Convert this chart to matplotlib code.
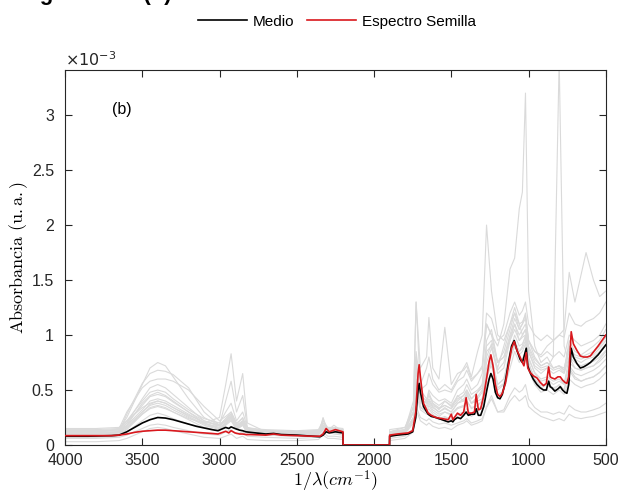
import numpy as np
import matplotlib
matplotlib.use("Agg")
import matplotlib.pyplot as plt

plt.rcParams['font.family'] = ['Liberation Sans', 'DejaVu Sans']

# fine grid used for the mean and the seed spectrum (cm^-1)
wn = [4000, 3850, 3700, 3650, 3600, 3550, 3500, 3450, 3400, 3350, 3300, 3250,
      3200, 3150, 3100, 3050, 3010, 2960, 2940, 2925, 2900, 2870, 2850, 2830,
      2800, 2700, 2650, 2600, 2500, 2400, 2350, 2330, 2310, 2290, 2250, 2201,
      2200, 1900, 1899, 1850, 1780, 1750, 1730, 1715, 1708, 1700, 1680, 1650,
      1630, 1600, 1560, 1520, 1500, 1490, 1480, 1460, 1440, 1420, 1404, 1390,
      1370, 1350, 1339, 1325, 1310, 1290, 1270, 1255, 1244, 1230, 1215, 1200,
      1185, 1170, 1150, 1130, 1110, 1093, 1075, 1055, 1040, 1030, 1015, 1005,
      990, 970, 946, 925, 903, 885, 870, 860, 849, 830, 810, 795,
      780, 765, 752, 740, 724, 710, 687, 665, 644, 620, 600, 550,
      500]

# absorbancia x 1e-3
medio = [0.08, 0.08, 0.085, 0.09, 0.12, 0.16, 0.20, 0.23, 0.25, 0.245, 0.23, 0.21,
         0.19, 0.17, 0.155, 0.14, 0.13, 0.16, 0.15, 0.165, 0.15, 0.135, 0.13, 0.12,
         0.115, 0.10, 0.105, 0.095, 0.09, 0.08, 0.075, 0.09, 0.12, 0.11, 0.12, 0.11,
         0, 0, 0.08, 0.09, 0.10, 0.12, 0.25, 0.50, 0.56, 0.48, 0.35, 0.28,
         0.26, 0.25, 0.23, 0.21, 0.22, 0.21, 0.23, 0.25, 0.24, 0.27, 0.30, 0.27,
         0.28, 0.28, 0.33, 0.27, 0.27, 0.35, 0.50, 0.60, 0.65, 0.60, 0.48, 0.43,
         0.42, 0.46, 0.58, 0.75, 0.90, 0.95, 0.86, 0.78, 0.75, 0.80, 0.88, 0.72,
         0.66, 0.60, 0.55, 0.52, 0.50, 0.50, 0.58, 0.53, 0.52, 0.49, 0.51, 0.53,
         0.50, 0.48, 0.47, 0.55, 0.88, 0.80, 0.74, 0.70, 0.71, 0.73, 0.75, 0.82,
         0.91]

semilla = [0.085, 0.085, 0.085, 0.09, 0.10, 0.115, 0.125, 0.13, 0.135, 0.135, 0.13, 0.125,
           0.12, 0.115, 0.11, 0.105, 0.10, 0.125, 0.11, 0.13, 0.11, 0.10, 0.10, 0.095,
           0.095, 0.09, 0.10, 0.09, 0.085, 0.08, 0.08, 0.10, 0.15, 0.12, 0.14, 0.12,
           0, 0, 0.09, 0.10, 0.11, 0.13, 0.30, 0.65, 0.73, 0.62, 0.38, 0.29,
           0.27, 0.25, 0.24, 0.23, 0.28, 0.23, 0.25, 0.29, 0.27, 0.30, 0.43, 0.29,
           0.29, 0.30, 0.46, 0.32, 0.33, 0.45, 0.62, 0.76, 0.82, 0.72, 0.55, 0.46,
           0.44, 0.47, 0.56, 0.72, 0.88, 0.94, 0.86, 0.80, 0.75, 0.72, 0.84, 0.70,
           0.66, 0.63, 0.61, 0.57, 0.54, 0.56, 0.71, 0.62, 0.61, 0.60, 0.62, 0.62,
           0.59, 0.57, 0.56, 0.62, 1.03, 0.92, 0.86, 0.81, 0.80, 0.80, 0.81, 0.90,
           1.00]

# coarser grid for the individual spectra
wn_g = [4000, 3800, 3650, 3600, 3500, 3450, 3400, 3350, 3300, 3200, 3100, 3000,
        2960, 2925, 2890, 2850, 2820, 2700, 2500, 2360, 2330, 2300, 2260, 2201,
        2200, 1900, 1899, 1800, 1745, 1728, 1700, 1660, 1645, 1620, 1580, 1542,
        1500, 1460, 1420, 1400, 1370, 1330, 1300, 1272, 1240, 1200, 1160, 1120,
        1090, 1060, 1040, 1020, 1000, 960, 920, 880, 840, 802, 770, 737,
        700, 660, 628, 580, 540, 500]

espectros = [
    [0.12, 0.12, 0.14, 0.25, 0.55, 0.70, 0.75, 0.72, 0.62, 0.42, 0.25, 0.18,
     0.22, 0.26, 0.17, 0.21, 0.14, 0.12, 0.11, 0.12, 0.18, 0.14, 0.14, 0.13,
     0, 0, 0.10, 0.12, 0.25, 0.55, 0.35, 0.30, 0.33, 0.28, 0.24, 0.26,
     0.23, 0.28, 0.30, 0.33, 0.28, 0.32, 0.36, 0.60, 0.75, 0.50, 0.55, 0.80,
     0.95, 0.85, 0.90, 1.00, 0.75, 0.60, 0.52, 0.55, 0.50, 0.55, 0.50, 0.70,
     0.62, 0.58, 0.60, 0.62, 0.66, 0.72],
    [0.14, 0.14, 0.15, 0.30, 0.52, 0.58, 0.60, 0.60, 0.58, 0.50, 0.35, 0.22,
     0.26, 0.30, 0.20, 0.24, 0.15, 0.13, 0.12, 0.13, 0.20, 0.15, 0.15, 0.14,
     0, 0, 0.12, 0.14, 0.30, 0.80, 0.45, 0.40, 0.48, 0.38, 0.32, 0.40,
     0.35, 0.42, 0.45, 0.50, 0.42, 0.48, 0.52, 0.95, 1.05, 0.75, 0.80, 1.00,
     1.15, 1.05, 1.10, 1.20, 0.95, 0.80, 0.72, 0.75, 0.70, 0.72, 0.68, 0.95,
     0.85, 0.82, 0.85, 0.90, 0.95, 1.05],
    [0.10, 0.10, 0.11, 0.16, 0.28, 0.33, 0.35, 0.33, 0.30, 0.24, 0.20, 0.25,
     0.55, 0.83, 0.40, 0.65, 0.20, 0.12, 0.10, 0.11, 0.17, 0.13, 0.13, 0.12,
     0, 0, 0.10, 0.13, 0.35, 1.30, 0.50, 0.42, 0.45, 0.38, 0.34, 0.36,
     0.33, 0.45, 0.40, 0.48, 0.38, 0.40, 0.42, 0.70, 0.80, 0.55, 0.60, 0.85,
     1.00, 0.90, 0.92, 0.98, 0.80, 0.65, 0.58, 0.60, 0.55, 0.58, 0.55, 0.80,
     0.70, 0.68, 0.70, 0.72, 0.76, 0.82],
    [0.03, 0.03, 0.04, 0.06, 0.12, 0.15, 0.16, 0.15, 0.13, 0.10, 0.07, 0.06,
     0.08, 0.10, 0.06, 0.08, 0.05, 0.04, 0.04, 0.05, 0.09, 0.06, 0.06, 0.05,
     0, 0, 0.04, 0.06, 0.12, 0.32, 0.22, 0.18, 0.20, 0.17, 0.15, 0.16,
     0.14, 0.18, 0.20, 0.22, 0.18, 0.20, 0.22, 0.34, 0.42, 0.30, 0.32, 0.45,
     0.52, 0.48, 0.50, 0.55, 0.42, 0.34, 0.30, 0.30, 0.28, 0.30, 0.28, 0.36,
     0.32, 0.30, 0.30, 0.32, 0.34, 0.38],
    [0.09, 0.09, 0.10, 0.18, 0.38, 0.45, 0.48, 0.45, 0.40, 0.30, 0.20, 0.15,
     0.20, 0.24, 0.15, 0.19, 0.12, 0.10, 0.09, 0.10, 0.15, 0.12, 0.12, 0.11,
     0, 0, 0.08, 0.11, 0.22, 0.60, 0.38, 0.40, 0.50, 0.45, 0.40, 0.42,
     0.38, 0.50, 0.55, 0.60, 0.50, 0.55, 0.65, 1.10, 1.00, 0.90, 1.10, 1.60,
     1.70, 2.15, 2.30, 3.20, 1.40, 0.90, 0.75, 0.80, 0.70, 0.72, 0.68, 0.90,
     0.80, 0.78, 0.80, 0.82, 0.88, 0.95],
    [0.11, 0.11, 0.12, 0.20, 0.42, 0.52, 0.55, 0.52, 0.46, 0.34, 0.22, 0.17,
     0.22, 0.28, 0.17, 0.22, 0.13, 0.11, 0.10, 0.11, 0.16, 0.13, 0.13, 0.12,
     0, 0, 0.10, 0.12, 0.24, 0.70, 0.42, 0.38, 0.40, 0.35, 0.30, 0.34,
     0.30, 0.38, 0.40, 0.45, 0.38, 0.42, 0.48, 0.85, 0.90, 0.65, 0.70, 0.95,
     1.10, 0.95, 1.00, 1.05, 0.85, 0.70, 0.65, 0.70, 0.80, 3.50, 0.90, 0.75,
     0.70, 0.68, 0.70, 0.72, 0.78, 0.85],
    [0.13, 0.13, 0.14, 0.22, 0.40, 0.48, 0.50, 0.48, 0.42, 0.32, 0.24, 0.20,
     0.30, 0.38, 0.22, 0.30, 0.16, 0.13, 0.12, 0.13, 0.20, 0.15, 0.15, 0.14,
     0, 0, 0.12, 0.16, 0.35, 0.85, 0.55, 0.70, 0.80, 0.60, 0.50, 0.55,
     0.50, 0.60, 0.70, 0.75, 0.62, 0.85, 1.00, 2.00, 1.40, 1.00, 0.95, 1.10,
     1.20, 1.05, 1.10, 1.15, 0.95, 0.85, 0.80, 0.85, 0.80, 0.85, 0.80, 1.00,
     0.95, 0.90, 0.92, 0.95, 1.00, 1.10],
    [0.08, 0.08, 0.09, 0.14, 0.28, 0.34, 0.36, 0.34, 0.30, 0.23, 0.16, 0.13,
     0.18, 0.22, 0.14, 0.18, 0.11, 0.09, 0.08, 0.09, 0.14, 0.11, 0.11, 0.10,
     0, 0, 0.09, 0.14, 0.40, 1.30, 0.70, 0.80, 1.16, 0.70, 0.60, 1.07,
     0.55, 0.65, 0.68, 0.72, 0.60, 0.65, 0.70, 1.10, 1.00, 0.75, 0.80, 0.95,
     1.05, 0.95, 0.98, 1.00, 0.85, 0.72, 0.68, 0.70, 0.65, 0.68, 0.65, 0.80,
     0.75, 0.72, 0.74, 0.76, 0.80, 0.86],
    [0.12, 0.12, 0.13, 0.18, 0.32, 0.40, 0.42, 0.40, 0.36, 0.28, 0.20, 0.16,
     0.20, 0.25, 0.16, 0.20, 0.13, 0.12, 0.11, 0.12, 0.16, 0.13, 0.13, 0.12,
     0, 0, 0.11, 0.13, 0.25, 0.50, 0.40, 0.38, 0.42, 0.36, 0.33, 0.36,
     0.33, 0.40, 0.45, 0.50, 0.42, 0.48, 0.55, 0.90, 0.95, 0.75, 0.85, 1.05,
     1.20, 1.10, 1.12, 1.18, 0.95, 0.85, 0.82, 0.90, 0.95, 1.00, 1.05, 1.57,
     1.30, 1.55, 1.75, 1.50, 1.35, 1.40],
    [0.15, 0.15, 0.16, 0.22, 0.34, 0.38, 0.40, 0.38, 0.34, 0.27, 0.21, 0.18,
     0.24, 0.30, 0.19, 0.25, 0.15, 0.14, 0.13, 0.14, 0.22, 0.16, 0.16, 0.15,
     0, 0, 0.14, 0.16, 0.30, 0.75, 0.45, 0.40, 0.45, 0.40, 0.36, 0.40,
     0.36, 0.44, 0.48, 0.55, 0.46, 0.50, 0.55, 0.80, 0.92, 0.68, 0.75, 0.98,
     1.10, 1.00, 1.05, 1.10, 0.90, 0.78, 0.72, 0.75, 0.70, 0.72, 0.70, 0.88,
     0.82, 0.80, 0.82, 0.85, 0.90, 0.98],
    [0.06, 0.06, 0.07, 0.09, 0.15, 0.18, 0.19, 0.18, 0.16, 0.13, 0.10, 0.09,
     0.12, 0.14, 0.10, 0.12, 0.08, 0.07, 0.06, 0.07, 0.12, 0.08, 0.08, 0.07,
     0, 0, 0.06, 0.08, 0.15, 0.35, 0.25, 0.22, 0.24, 0.21, 0.19, 0.20,
     0.18, 0.20, 0.22, 0.24, 0.20, 0.22, 0.24, 0.35, 0.45, 0.30, 0.30, 0.40,
     0.45, 0.40, 0.42, 0.45, 0.35, 0.30, 0.26, 0.24, 0.22, 0.24, 0.22, 0.28,
     0.25, 0.24, 0.25, 0.26, 0.28, 0.30],
    [0.10, 0.10, 0.12, 0.28, 0.56, 0.65, 0.68, 0.67, 0.64, 0.52, 0.30, 0.18,
     0.22, 0.26, 0.16, 0.21, 0.13, 0.11, 0.10, 0.11, 0.16, 0.12, 0.12, 0.11,
     0, 0, 0.09, 0.12, 0.22, 0.48, 0.32, 0.28, 0.30, 0.26, 0.23, 0.25,
     0.22, 0.26, 0.28, 0.30, 0.26, 0.30, 0.34, 0.55, 0.65, 0.45, 0.50, 0.70,
     0.85, 0.75, 0.78, 0.85, 0.68, 0.55, 0.48, 0.50, 0.46, 0.50, 0.46, 0.60,
     0.55, 0.52, 0.54, 0.56, 0.60, 0.66],
    [0.07, 0.07, 0.08, 0.12, 0.22, 0.27, 0.29, 0.27, 0.24, 0.19, 0.16, 0.18,
     0.40, 0.58, 0.30, 0.45, 0.16, 0.09, 0.08, 0.09, 0.25, 0.12, 0.10, 0.09,
     0, 0, 0.08, 0.10, 0.20, 0.60, 0.34, 0.30, 0.36, 0.30, 0.26, 0.30,
     0.28, 0.34, 0.36, 0.40, 0.34, 0.36, 0.40, 0.65, 0.72, 0.52, 0.56, 0.78,
     0.90, 0.82, 0.85, 0.92, 0.74, 0.60, 0.54, 0.56, 0.52, 0.54, 0.50, 0.68,
     0.60, 0.58, 0.60, 0.62, 0.66, 0.72],
    [0.13, 0.13, 0.14, 0.20, 0.36, 0.44, 0.46, 0.44, 0.39, 0.30, 0.22, 0.18,
     0.24, 0.28, 0.18, 0.22, 0.14, 0.13, 0.12, 0.13, 0.18, 0.14, 0.14, 0.13,
     0, 0, 0.12, 0.14, 0.30, 0.72, 0.50, 0.55, 0.65, 0.55, 0.48, 0.50,
     0.48, 0.58, 0.62, 0.68, 0.58, 0.65, 0.72, 1.20, 1.15, 0.95, 1.00, 1.20,
     1.30, 1.18, 1.22, 1.30, 1.10, 1.00, 0.95, 1.00, 0.95, 1.00, 0.98, 1.20,
     1.10, 1.08, 1.12, 1.15, 1.20, 1.30],
    [0.09, 0.09, 0.10, 0.15, 0.30, 0.36, 0.38, 0.36, 0.32, 0.25, 0.18, 0.14,
     0.19, 0.23, 0.14, 0.18, 0.11, 0.10, 0.09, 0.10, 0.24, 0.13, 0.18, 0.12,
     0, 0, 0.10, 0.12, 0.22, 0.68, 0.40, 0.34, 0.38, 0.32, 0.28, 0.30,
     0.27, 0.33, 0.35, 0.40, 0.33, 0.36, 0.40, 0.62, 0.78, 0.55, 0.60, 0.82,
     0.92, 0.85, 0.88, 0.95, 0.78, 0.66, 0.60, 0.62, 0.58, 0.60, 0.56, 0.72,
     0.65, 0.63, 0.65, 0.68, 0.72, 0.78],
    [0.11, 0.11, 0.12, 0.17, 0.30, 0.37, 0.40, 0.38, 0.34, 0.26, 0.19, 0.15,
     0.20, 0.25, 0.15, 0.19, 0.12, 0.11, 0.10, 0.11, 0.16, 0.12, 0.12, 0.11,
     0, 0, 0.11, 0.13, 0.24, 0.58, 0.38, 0.36, 0.40, 0.34, 0.30, 0.33,
     0.30, 0.38, 0.42, 0.46, 0.38, 0.44, 0.50, 0.75, 0.88, 0.70, 0.90, 1.10,
     1.25, 1.10, 1.00, 1.05, 0.88, 0.75, 0.70, 0.72, 0.68, 0.70, 0.66, 0.85,
     0.78, 0.75, 0.78, 0.80, 0.85, 0.92],
]

xticks = [4000, 3500, 3000, 2500, 2000, 1500, 1000, 500]
yticks = [0, 0.5, 1, 1.5, 2, 2.5, 3]
ytick_labels = ['0', '0.5', '1', '1.5', '2', '2.5', '3']

fig = plt.figure(figsize=(6.22, 4.95), dpi=100)
ax = fig.add_axes([0.1045, 0.101, 0.8695, 0.7576])

for s in espectros:
    ax.plot(wn_g, np.array(s) * 1e-3, color='#dadada', lw=0.8, zorder=1)

l1, = ax.plot(wn, np.array(medio) * 1e-3, color='black', lw=1.2, zorder=3)
l2, = ax.plot(wn, np.array(semilla) * 1e-3, color='#d9181d', lw=1.2, zorder=4)

ax.set_xlim(4000, 500)
ax.set_ylim(0, 3.41e-3)
ax.set_xticks(xticks)
ax.set_yticks(np.array(yticks) * 1e-3)
ax.set_yticklabels(ytick_labels)
ax.tick_params(direction='in', top=True, right=True, length=5, width=0.8,
               labelsize=11.5, colors='#262626')
ax.tick_params(axis='x', pad=6)
ax.tick_params(axis='y', pad=8)
for sp in ax.spines.values():
    sp.set_color('#262626')
    sp.set_linewidth(0.8)

ax.set_xlabel(r'$1/\lambda(cm^{-1})$', fontsize=13, math_fontfamily='cm', labelpad=0)
ax.set_ylabel(r'$\mathrm{Absorbancia\ (u.a.)}$', fontsize=13, math_fontfamily='cm', labelpad=1)

ax.text(0.0, 1.003, r'$\times10^{-3}$', transform=ax.transAxes, ha='left', va='bottom',
        fontsize=11.5, color='#262626', math_fontfamily='dejavusans')
ax.text(3635, 3.05e-3, '(b)', ha='center', va='center', fontsize=11.5)

fig.legend([l1, l2], ['Medio', 'Espectro Semilla'], loc='center',
           bbox_to_anchor=(337 / 622, 0.956), ncol=2, frameon=False, fontsize=11,
           handlelength=3.2, handletextpad=0.4, columnspacing=0.8)

fig.text(20 / 622, 1.0, 'Figura 4.13 (b)', fontsize=16, fontweight='bold',
         va='baseline', ha='left')

fig.savefig('out.png', dpi=100)
